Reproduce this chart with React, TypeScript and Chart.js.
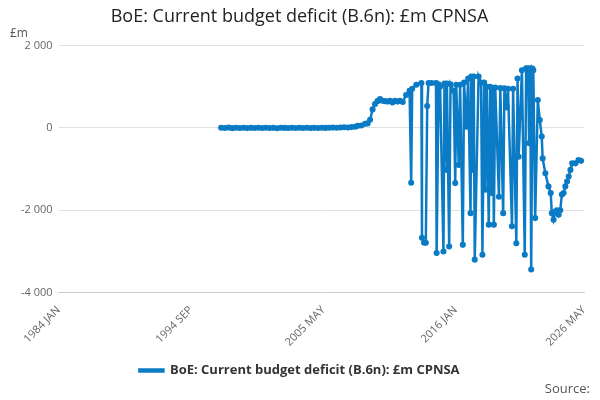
import React, { useEffect, useRef } from "react";
import { Chart, registerables } from "chart.js";
Chart.register(...registerables);

const TITLE = "BoE: Current budget deficit (B.6n): £m CPNSA";
const TICK_YEARS = [1984.0, 1994.667, 2005.333, 2016.0, 2026.333];
const TICK_LABELS = ["1984 JAN", "1994 SEP", "2005 MAY", "2016 JAN", "2026 MAY"];

// flat early section
const flatYears = [1997.1, 1997.4, 1997.7, 1998.0, 1998.3, 1998.6, 1998.9, 1999.2, 1999.5, 1999.8, 2000.1, 2000.4, 2000.7, 2001.0, 2001.3, 2001.6, 2001.9, 2002.2, 2002.5, 2002.8, 2003.1, 2003.4, 2003.7, 2004.0, 2004.3, 2004.6, 2004.9, 2005.2, 2005.5, 2005.8, 2006.1, 2006.4, 2006.7, 2007.0, 2007.3, 2007.6, 2007.9, 2008.1, 2008.4, 2008.7, 2008.9, 2009.1, 2009.3, 2009.5, 2009.7, 2009.9, 2010.1, 2010.3, 2010.5, 2010.7, 2010.9, 2011.1, 2011.3, 2011.5];
const flatValues = [5, 0, 8, -5, 3, 0, 6, -4, 2, 0, 5, -3, 4, 0, 2, -6, 3, 1, 0, 4, -2, 5, 0, 3, -4, 2, 0, 6, 1, 3, 8, 4, 10, 15, 12, 20, 30, 50, 60, 100, 110, 200, 450, 580, 650, 700, 660, 650, 640, 660, 620, 660, 640, 660];

// dense volatile section
const denseYears = [2011.73, 2012.0, 2012.28, 2012.41, 2012.49, 2012.82, 2013.23, 2013.28, 2013.45, 2013.59, 2013.70, 2013.81, 2014.06, 2014.41, 2014.46, 2014.62, 2014.74, 2015.01, 2015.09, 2015.28, 2015.29, 2015.47, 2015.58, 2015.83, 2015.96, 2016.04, 2016.24, 2016.35, 2016.57, 2016.67, 2016.86, 2017.0, 2017.19, 2017.25, 2017.35, 2017.45, 2017.53, 2017.84, 2018.04, 2018.15, 2018.29, 2018.39, 2018.50, 2018.66, 2018.77, 2018.88, 2018.98, 2019.07, 2019.18, 2019.48, 2019.59, 2019.82, 2019.92, 2020.11, 2020.21, 2020.53, 2020.62, 2020.88, 2020.98, 2021.07, 2021.33, 2021.56, 2021.67, 2021.83, 2021.91, 2022.0, 2022.08, 2022.18, 2022.25, 2022.40, 2022.61, 2022.77, 2022.93, 2023.0, 2023.22, 2023.47, 2023.65, 2023.74, 2023.88, 2024.02, 2024.15, 2024.29, 2024.42, 2024.55, 2024.69, 2024.83, 2024.97, 2025.10, 2025.24, 2025.38, 2025.65, 2025.89, 2026.1];
const denseValues = [630, 800, 900, -1330, 950, 1050, 1090, -2670, -2790, -2790, 530, 1090, 1090, 1090, -3040, 1060, 1000, -3000, 1080, -1020, 1080, -2880, 1060, 900, -1340, 1050, -900, 1050, -2840, 1100, 30, 1200, -2070, 1250, -1020, 1250, -3200, 1250, 1100, -3080, 1100, -1500, 1000, -2350, 1000, -1580, 960, -2350, 980, -1670, 970, -2070, 960, 500, 950, -2390, 950, -2800, 1200, -700, 1400, -3080, 1450, 1450, -370, 1450, -3440, 1440, 1400, -2190, 680, 190, -210, -740, -1100, -1420, -1580, -2070, -2230, -2030, -2000, -2110, -2000, -1620, -1580, -1420, -1300, -1180, -1020, -860, -860, -780, -800];

const years = [...flatYears, ...denseYears];
const values = [...flatValues, ...denseValues];

const fmt = (v: number) => {
  const s = Math.abs(v).toString().replace(/\B(?=(\d{3})+(?!\d))/g, " ");
  return (v < 0 ? "-" : "") + s;
};

export default function App() {
  const ref = useRef<HTMLCanvasElement>(null);
  useEffect(() => {
    const color = "#0a7bc4";
    const chart = new Chart(ref.current!, {
      type: "line",
      data: {
        datasets: [{
          label: TITLE,
          data: years.map((y, i) => ({ x: y, y: values[i] })),
          borderColor: color,
          backgroundColor: color,
          borderWidth: 2.5,
          pointRadius: 1.8,
          pointHoverRadius: 1.8,
          tension: 0,
        }],
      },
      options: {
        animation: false,
        responsive: false,
        layout: { padding: { left: 15, right: 16, top: 0, bottom: 13 } },
        plugins: {
          title: { display: true, text: TITLE, color: "#222", font: { family: "Open Sans", size: 18, weight: "normal" }, padding: { top: 6, bottom: 18 } },
          legend: {
            position: "bottom",
            labels: { boxWidth: 24, boxHeight: 2, color: "#333", padding: 12, font: { family: "Open Sans", size: 13, weight: "bold" } },
          },
          tooltip: { enabled: false },
        },
        scales: {
          x: {
            type: "linear",
            min: 1984,
            max: 2026.333,
            afterBuildTicks: (s: any) => { s.ticks = TICK_YEARS.map((v) => ({ value: v })); },
            ticks: {
              maxRotation: 45, minRotation: 45, color: "#666",
              font: { family: "Open Sans", size: 11 },
              callback: (v: any) => { const i = TICK_YEARS.findIndex((t) => Math.abs(t - v) < 0.01); return i >= 0 ? TICK_LABELS[i] : ""; },
            },
            grid: { display: false, drawOnChartArea: false },
            border: { color: "#ccc" },
          },
          y: {
            min: -4000, max: 2000,
            ticks: { stepSize: 2000, color: "#666", font: { family: "Open Sans", size: 11 }, callback: (v: any) => fmt(v as number), padding: 6 },
            grid: { color: "#e0e0e0", drawTicks: false },
            border: { display: false },
          },
        },
      },
    });
    return () => chart.destroy();
  }, []);
  return (
    <div style={{ position: "fixed", left: 0, top: 0, width: 600, height: 400, background: "#fff", fontFamily: "Open Sans" }}>
      <canvas ref={ref} width={600} height={400} />
      <div style={{ position: "absolute", left: 10, top: 24, fontSize: 12, color: "#555" }}>£m</div>
      <div style={{ position: "absolute", right: 10, top: 379, fontSize: 13, color: "#555" }}>Source:</div>
    </div>
  );
}
